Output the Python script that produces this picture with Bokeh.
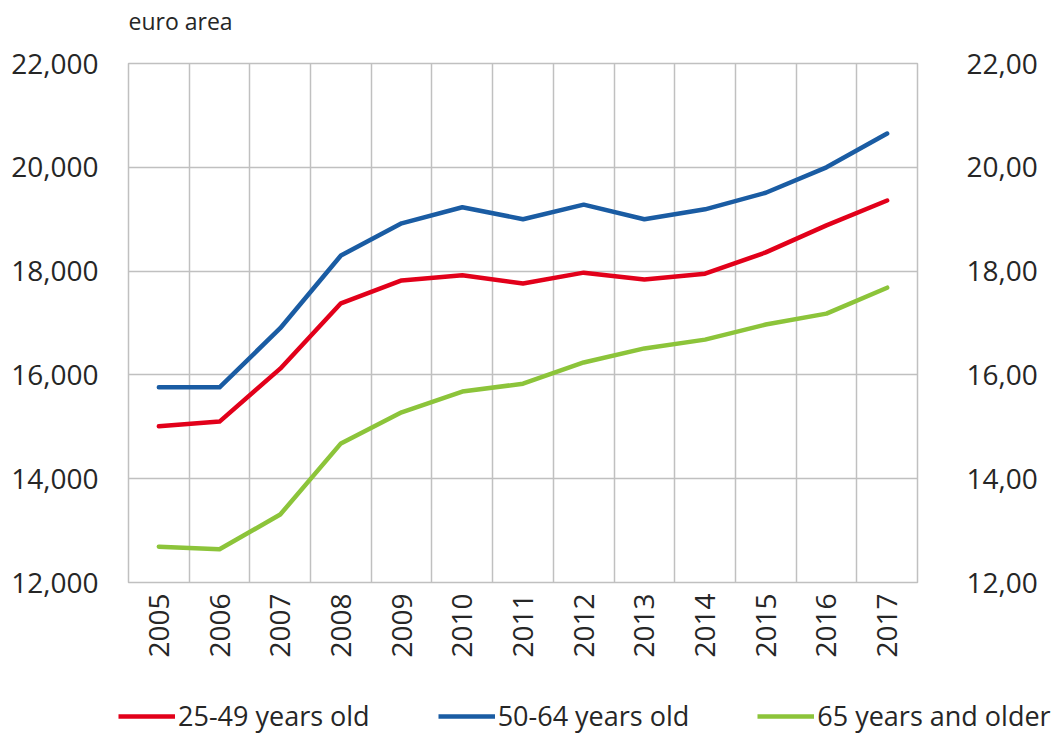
from bokeh.plotting import figure
from bokeh.layouts import column
from bokeh.models import (FixedTicker, NumeralTickFormatter, LinearAxis, Range1d,
                          CustomJSTickFormatter, Legend, LegendItem, Label)
from bokeh.embed import file_html
from bokeh.resources import INLINE

years = [2005, 2006, 2007, 2008, 2009, 2010, 2011, 2012, 2013, 2014, 2015, 2016, 2017]
age_25_49 = [15010, 15100, 16120, 17380, 17820, 17920, 17760, 17970, 17840, 17950, 18360, 18880, 19360]
age_50_64 = [15760, 15760, 16900, 18300, 18920, 19230, 19000, 19280, 19000, 19190, 19510, 20000, 20650]
age_65_plus = [12690, 12640, 13310, 14680, 15280, 15680, 15830, 16240, 16510, 16680, 16970, 17180, 17680]
y_ticks = [12000, 14000, 16000, 18000, 20000, 22000]
series_names = ["25-49 years old", "50-64 years old", "65 years and older"]
series_values = [age_25_49, age_50_64, age_65_plus]
colors = ["#e2001a", "#1a5ca3", "#8cc43a"]

FONT = "Open Sans"
TXT = "#262626"
GRID = "#c0c0c0"


def strip(width, height):
    f = figure(width=width, height=height, output_backend="svg", toolbar_location=None,
               x_range=Range1d(0, 1), y_range=Range1d(0, 1),
               min_border_left=0, min_border_right=0, min_border_top=0, min_border_bottom=0)
    f.frame_align = False
    f.axis.visible = False
    f.grid.visible = False
    f.outline_line_color = None
    f.background_fill_color = "white"
    f.border_fill_color = "white"
    return f


# title strip
top = strip(1040, 44)
top.add_layout(Label(x=128, y=24, x_units="screen", y_units="screen", text="euro area",
                     text_font=FONT, text_font_size="23px", text_color=TXT,
                     text_baseline="middle", text_align="left"))

# main chart
p = figure(width=1040, height=640, output_backend="svg", toolbar_location=None,
           x_range=Range1d(years[0] - 0.5, years[-1] + 0.5),
           y_range=Range1d(y_ticks[0], y_ticks[-1]),
           min_border_left=128, min_border_right=118, min_border_top=19, min_border_bottom=102)
p.frame_align = False
p.background_fill_color = "white"
p.border_fill_color = "white"
p.outline_line_color = GRID
p.outline_line_width = 1.5

xa = p.xaxis[0]
xa.ticker = FixedTicker(ticks=years)
xa.major_label_orientation = 3.14159265 / 2
xa.major_label_standoff = 5
ya = p.yaxis[0]
ya.ticker = FixedTicker(ticks=y_ticks)
ya.formatter = NumeralTickFormatter(format="0,0")
ya.major_label_standoff = 24
for ax in (xa, ya):
    ax.axis_line_color = None
    ax.major_tick_line_color = None
    ax.minor_tick_line_color = None
    ax.major_label_text_font = FONT
    ax.major_label_text_font_size = "28px"
    ax.major_label_text_color = TXT

# cut-off axis of the neighbouring panel on the right
ra = LinearAxis(ticker=FixedTicker(ticks=y_ticks),
                formatter=CustomJSTickFormatter(code="return Math.round(tick/1000) + ',00';"))
ra.axis_line_color = None
ra.major_tick_line_color = None
ra.minor_tick_line_color = None
ra.major_label_standoff = 43
ra.major_label_text_font = FONT
ra.major_label_text_font_size = "28px"
ra.major_label_text_color = TXT
p.add_layout(ra, "right")

# grids: vertical lines between year categories
p.xgrid.ticker = FixedTicker(ticks=[y - 0.5 for y in years] + [years[-1] + 0.5])
p.xgrid.grid_line_color = GRID
p.xgrid.grid_line_width = 1.5
p.ygrid.ticker = FixedTicker(ticks=y_ticks)
p.ygrid.grid_line_color = GRID
p.ygrid.grid_line_width = 1.5

for name, vals, c in zip(series_names, series_values, colors):
    p.line(years, vals, line_color=c, line_width=4.5, line_join="round", line_cap="round")

# legend strip below the chart (its lines lie outside its view; only the legend shows)
lg = strip(1052, 50)
items = []
for name, vals, c in zip(series_names, series_values, colors):
    r = lg.line(years, vals, line_color=c, line_width=4.5)
    items.append(LegendItem(label=name, renderers=[r]))
legend = Legend(items=items, orientation="horizontal", location=(118, 0),
                glyph_width=57, glyph_height=20, label_standoff=3, spacing=68,
                padding=0, margin=0, border_line_color=None, background_fill_alpha=0,
                label_text_font=FONT, label_text_font_size="27px", label_text_color=TXT)
lg.add_layout(legend, "center")

open("out.html", "w").write(file_html(column(top, p, lg, spacing=0), INLINE))
